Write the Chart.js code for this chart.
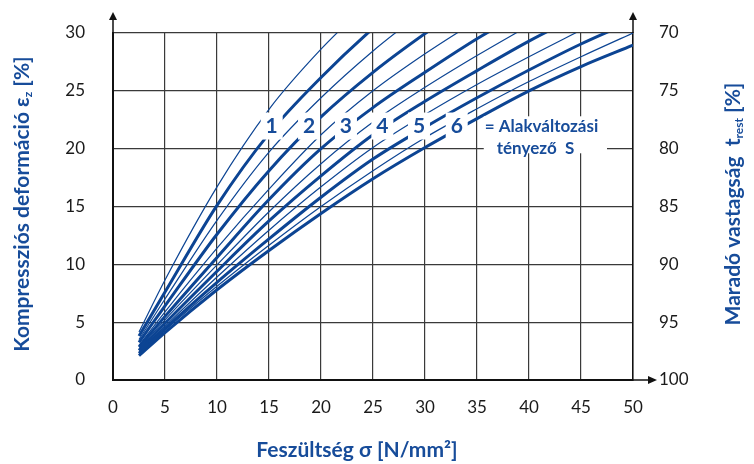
<!DOCTYPE html>
<html>
<head>
<meta charset="utf-8">
<script src="https://cdn.jsdelivr.net/npm/chart.js@4.4.0/dist/chart.umd.min.js"></script>
<style>
body { margin: 0; background: #fff; }
#wrap { width: 754px; height: 464px; }
</style>
</head>
<body>
<div id="wrap"><canvas id="chart" width="754" height="464"></canvas></div>
<script>
const sigma = [2.5, 5, 10, 15, 20, 25, 30, 35, 40, 45, 50];

// compression strain (%) per shape factor S, thin curves are the half steps
const epsS05 = [4.15, 8.65, 16.7, 23.4, 28.6, 33.0];
const epsS1  = [3.8, 7.6, 15.1, 21.3, 26.15, 30.4, 34.1];
const epsS15 = [3.5, 7.0, 13.8, 19.7, 24.4, 28.45, 32.0];
const epsS2  = [3.25, 6.4, 12.6, 18.1, 22.75, 26.6, 29.95, 33.0];
const epsS25 = [3.0, 5.9, 11.4, 16.5, 21.2, 25.0, 28.2, 31.1];
const epsS3  = [2.85, 5.5, 10.6, 15.6, 20.0, 23.55, 26.6, 29.5, 32.1];
const epsS35 = [2.7, 5.2, 9.95, 14.55, 18.7, 22.3, 25.3, 28.05, 30.65];
const epsS4  = [2.55, 4.9, 9.4, 13.75, 17.65, 21.2, 24.1, 26.75, 29.3, 31.6];
const epsS45 = [2.45, 4.65, 8.9, 12.95, 16.7, 20.1, 22.95, 25.55, 27.95, 30.25];
const epsS5  = [2.3, 4.45, 8.45, 12.2, 15.8, 19.1, 21.85, 24.4, 26.8, 29.05, 31.05];
const epsS55 = [2.2, 4.3, 8.1, 11.65, 15.0, 18.1, 20.95, 23.45, 25.8, 27.95, 30.0];
const epsS6  = [2.1, 4.1, 7.8, 11.2, 14.4, 17.4, 20.1, 22.6, 25.0, 27.1, 28.95];

// curve labels (shape factor S) and where they sit
const curveLabels = ['1', '2', '3', '4', '5', '6'];
const labelSigma = [15.26, 18.85, 22.4, 25.9, 29.42, 33.05];
const labelEps = 22.0;

const blue = '#0c4493';
const textBlue = '#174c9a';
const gridCol = '#3a3a3a';

function pts(arr) {
    return arr.map((v, i) => ({ x: sigma[i], y: v }));
}

function curve(arr, thick) {
    return {
        data: pts(arr),
        borderColor: blue,
        borderWidth: thick ? 3 : 1.2,
        pointRadius: 0,
        cubicInterpolationMode: 'monotone',
        fill: false,
        clip: 0
    };
}

const series = [
    [epsS05, false], [epsS1, true], [epsS15, false], [epsS2, true],
    [epsS25, false], [epsS3, true], [epsS35, false], [epsS4, true],
    [epsS45, false], [epsS5, true], [epsS55, false], [epsS6, true]
];

const tickFont = { family: 'Lato', size: 17 };

// white boxes + curve numbers + the S note
const labelPlugin = {
    id: 'labels',
    afterDatasetsDraw(chart) {
        const ctx = chart.ctx;
        const xs = chart.scales.x;
        const ys = chart.scales.y;
        ctx.save();
        ctx.font = 'bold 21px Lato';
        ctx.textAlign = 'center';
        ctx.textBaseline = 'middle';
        curveLabels.forEach((t, i) => {
            const px = xs.getPixelForValue(labelSigma[i]);
            const py = ys.getPixelForValue(labelEps);
            ctx.fillStyle = '#fff';
            ctx.fillRect(px - 11, py - 13, 22, 27);
            ctx.fillStyle = textBlue;
            ctx.fillText(t, px, py + 1);
        });
        // note box
        const bx1 = xs.getPixelForValue(35.65);
        const bx2 = xs.getPixelForValue(47.5);
        const by1 = ys.getPixelForValue(22.8);
        const by2 = ys.getPixelForValue(19.6);
        ctx.fillStyle = '#fff';
        ctx.fillRect(bx1, by1, bx2 - bx1, by2 - by1);
        ctx.fillStyle = textBlue;
        ctx.font = 'bold 17px Lato';
        ctx.textAlign = 'left';
        ctx.fillText('= Alakváltozási', xs.getPixelForValue(35.75), ys.getPixelForValue(21.95));
        ctx.fillText('tényező  S', xs.getPixelForValue(36.9), ys.getPixelForValue(20.0));
        ctx.restore();
    }
};

function rotTitle(ctx, parts, cx, cy) {
    // parts: [text, isSub]
    ctx.save();
    ctx.translate(cx, cy);
    ctx.rotate(-Math.PI / 2);
    ctx.fillStyle = textBlue;
    ctx.textBaseline = 'alphabetic';
    let w = 0;
    parts.forEach(p => {
        ctx.font = p[1] ? 'bold 12px Lato' : 'bold 21px Lato';
        w += ctx.measureText(p[0]).width;
    });
    let x = -w / 2;
    parts.forEach(p => {
        ctx.font = p[1] ? 'bold 12px Lato' : 'bold 21px Lato';
        ctx.fillText(p[0], x, p[1] ? 11 : 8);
        x += ctx.measureText(p[0]).width;
    });
    ctx.restore();
}

const decoPlugin = {
    id: 'deco',
    afterDraw(chart) {
        const ctx = chart.ctx;
        const a = chart.chartArea;
        ctx.save();
        ctx.strokeStyle = '#111';
        ctx.fillStyle = '#111';
        ctx.lineWidth = 1.5;
        // up arrows on both vertical axes
        [a.left, a.right].forEach(x => {
            ctx.beginPath();
            ctx.moveTo(x, a.top);
            ctx.lineTo(x, a.top - 14);
            ctx.stroke();
            ctx.beginPath();
            ctx.moveTo(x, a.top - 21);
            ctx.lineTo(x - 4, a.top - 13);
            ctx.lineTo(x + 4, a.top - 13);
            ctx.closePath();
            ctx.fill();
        });
        // right arrow on the x axis
        ctx.beginPath();
        ctx.moveTo(a.right, a.bottom);
        ctx.lineTo(a.right + 17, a.bottom);
        ctx.stroke();
        ctx.beginPath();
        ctx.moveTo(a.right + 24, a.bottom);
        ctx.lineTo(a.right + 15, a.bottom - 4);
        ctx.lineTo(a.right + 15, a.bottom + 4);
        ctx.closePath();
        ctx.fill();

        // axis titles
        rotTitle(ctx, [['Kompressziós deformáció ε', false], ['z', true], [' [%]', false]], 21, 204);
        rotTitle(ctx, [['Maradó vastagság  t', false], ['rest', true], [' [%]', false]], 732, 204);
        ctx.fillStyle = textBlue;
        ctx.font = 'bold 21px Lato';
        ctx.textAlign = 'center';
        ctx.textBaseline = 'middle';
        ctx.fillText('Feszültség σ [N/mm²]', 357, 450);
        ctx.restore();
    }
};

function fixY(width) {
    return function (scale) {
        scale.width = width;
        // tick padding must not push the plot area down
        scale.paddingTop = 0;
        scale.paddingBottom = 0;
    };
}

new Chart(document.getElementById('chart'), {
    type: 'line',
    data: {
        datasets: series.map(s => curve(s[0], s[1]))
    },
    options: {
        responsive: false,
        animation: false,
        events: [],
        layout: { padding: { top: 33, left: 0, right: 0, bottom: 0 } },
        plugins: {
            legend: { display: false },
            tooltip: { enabled: false }
        },
        scales: {
            x: {
                type: 'linear',
                min: 0,
                max: 50,
                ticks: { stepSize: 5, font: tickFont, color: '#1a1a1a', padding: 17 },
                grid: { color: gridCol, lineWidth: 1.2, drawTicks: false },
                border: { color: '#111', width: 2 },
                afterFit(scale) { scale.height = 84; }
            },
            y: {
                position: 'left',
                min: 0,
                max: 30,
                ticks: { stepSize: 5, font: tickFont, color: '#1a1a1a', padding: 28 },
                grid: { color: gridCol, lineWidth: 1.2, drawTicks: false },
                border: { color: '#111', width: 2 },
                afterFit: fixY(113)
            },
            y2: {
                position: 'right',
                min: 70,
                max: 100,
                reverse: true,
                ticks: { stepSize: 5, font: tickFont, color: '#1a1a1a', padding: 26 },
                grid: { drawOnChartArea: false, drawTicks: false },
                border: { color: '#111', width: 1.5 },
                afterFit: fixY(121)
            }
        }
    },
    plugins: [labelPlugin, decoPlugin]
});
</script>
</body>
</html>
